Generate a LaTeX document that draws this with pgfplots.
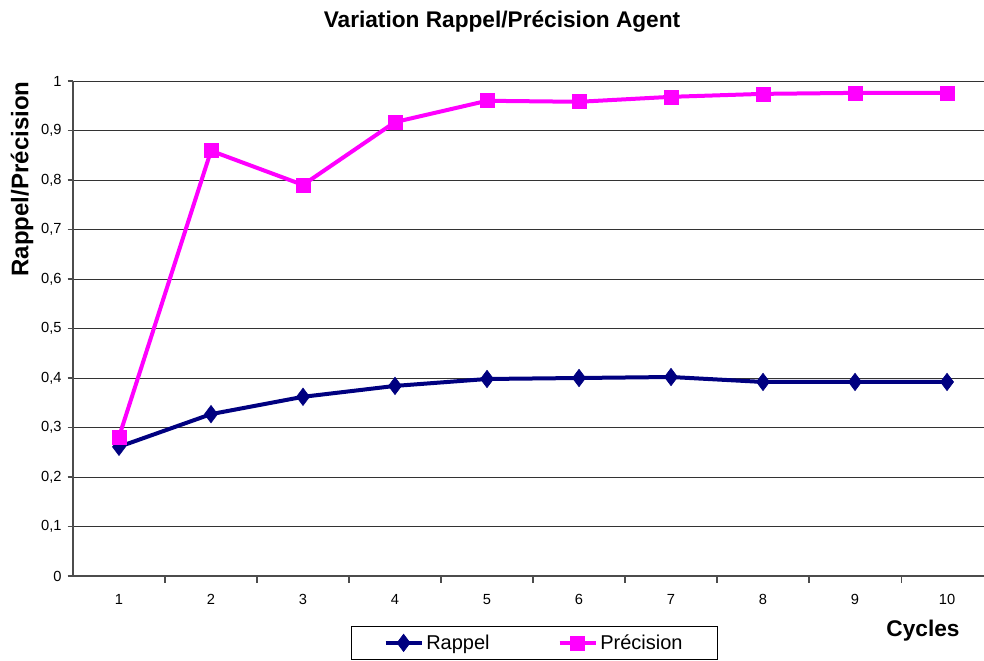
\documentclass[border=0pt]{standalone}
\usepackage{fontspec}
\setmainfont{Liberation Sans}
\usepackage{pgfplots}
\pgfplotsset{compat=1.18}
\definecolor{navy}{RGB}{0,0,128}
\definecolor{mag}{RGB}{255,0,255}
\begin{document}
\begin{tikzpicture}[x=0.75pt,y=0.75pt]
\useasboundingbox (0,0) rectangle (984,660);
\begin{axis}[
  at={(54.75pt,63pt)}, anchor=south west,
  scale only axis, width=683.25pt, height=371.25pt,
  xmin=0.5, xmax=10.402, ymin=0, ymax=1,
  axis x line*=bottom, axis y line*=left,
  axis line style={black!70, line width=0.8pt, -},
  xtick={1,...,10}, major x tick style={draw=none},
  minor xtick={1.5,2.5,...,9.5},
  minor x tick style={black!70, line width=0.8pt},
  minor tick length=5pt,
  ytick={0,0.1,...,1.0},
  major tick length=4pt,
  y tick style={black!70, line width=0.8pt},
  tick align=outside,
  ymajorgrids, grid style={black!80, line width=0.7pt},
  /pgf/number format/assume math mode=true,
  /pgf/number format/use comma,
  yticklabel style={/pgf/number format/fixed, /pgf/number format/precision=1},
  ticklabel style={font=\fontsize{11}{13}\selectfont},
  xticklabel style={yshift=-6pt},
  yticklabel style={xshift=-1pt},
  legend columns=2,
  legend style={at={(0.3052,-0.101)}, anchor=north west, draw=black, line width=0.8pt,
    font=\fontsize{15}{18}\selectfont, inner xsep=24pt, inner ysep=4pt,
    /tikz/every even column/.append style={column sep=49pt}},
  legend image code/.code={\draw[#1, mark repeat=2, mark phase=2] plot coordinates {(0pt,0pt) (13.5pt,0pt) (27pt,0pt)};},
]
\addplot[navy, line width=3pt, mark=diamond*, mark size=6.5pt, mark options={line width=0.5pt}] coordinates {
(1,0.261) (2,0.327) (3,0.362) (4,0.384) (5,0.398) (6,0.400) (7,0.402) (8,0.392) (9,0.392) (10,0.392)};
\addlegendentry{Rappel}
\addplot[mag, line width=3pt, mark=square*, mark size=5.25pt, mark options={line width=0.5pt}] coordinates {
(1,0.281) (2,0.859) (3,0.790) (4,0.917) (5,0.960) (6,0.958) (7,0.968) (8,0.974) (9,0.976) (10,0.976)};
\addlegendentry{Précision}
\end{axis}
\node[font=\bfseries\fontsize{17}{20}\selectfont] at (502,638) {Variation Rappel/Précision Agent};
\node[font=\bfseries\fontsize{18}{21}\selectfont, rotate=90] at (22,481) {Rappel/Précision};
\node[font=\bfseries\fontsize{17}{20}\selectfont] at (923,29) {Cycles};
\end{tikzpicture}
\end{document}
